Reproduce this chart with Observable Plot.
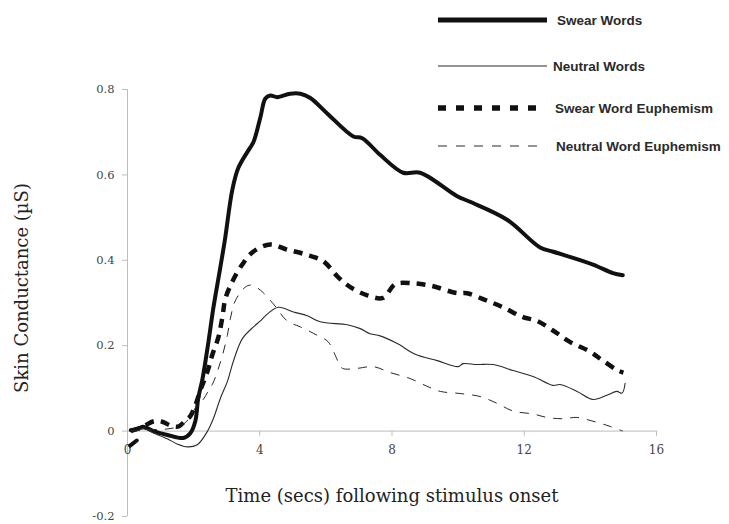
<!DOCTYPE html>
<html>
<head>
<meta charset="utf-8">
<script src="https://cdn.jsdelivr.net/npm/d3@7"></script>
<script src="https://cdn.jsdelivr.net/npm/@observablehq/plot@0.6"></script>
<style>
  html, body { margin: 0; padding: 0; background: #fff; }
  #wrap { position: relative; width: 729px; height: 524px; }
  #legend { position: absolute; left: 0; top: 0; pointer-events: none; }
</style>
</head>
<body>
<div id="wrap"></div>
<script>
// ---- data (time in seconds, skin conductance in µS) ----
const swearT = [0.08, 0.28, 0.28, 0.1, 0.3, 0.48, 0.79, 1.21, 1.69, 1.9, 2.05, 2.14, 2.27, 2.45, 2.6, 2.8, 2.95, 3.17, 3.35, 3.66, 3.81, 4.02, 4.17, 4.32, 4.53, 4.92, 5.23, 5.53, 6.04, 6.83, 7.1, 7.64, 8.34, 8.85, 9.97, 10.36, 11.48, 12.48, 12.88, 14.08, 14.68, 14.98];
const swearV = [-0.034, -0.022, NaN, 0.002, 0.005, 0.01, 0.0, -0.009, -0.016, -0.005, 0.023, 0.077, 0.123, 0.21, 0.29, 0.38, 0.45, 0.565, 0.616, 0.658, 0.677, 0.735, 0.779, 0.786, 0.782, 0.79, 0.79, 0.78, 0.744, 0.69, 0.686, 0.647, 0.605, 0.605, 0.55, 0.537, 0.495, 0.43, 0.42, 0.39, 0.37, 0.365];

const neutralT = [0.1, 0.5, 0.8, 1.2, 1.5, 1.81, 2.11, 2.42, 2.6, 2.81, 3.02, 3.2, 3.47, 3.81, 4.02, 4.17, 4.56, 5.02, 5.44, 5.83, 6.65, 7.04, 7.34, 7.64, 8.16, 8.7, 9.37, 10.0, 10.15, 10.57, 11.06, 11.66, 12.27, 12.87, 13.08, 13.6, 14.08, 14.5, 14.8, 14.96, 15.05];
const neutralV = [0.0, 0.005, -0.005, -0.018, -0.03, -0.037, -0.032, 0.0, 0.03, 0.077, 0.116, 0.163, 0.216, 0.244, 0.258, 0.27, 0.29, 0.279, 0.27, 0.256, 0.249, 0.24, 0.228, 0.223, 0.205, 0.18, 0.165, 0.151, 0.158, 0.156, 0.156, 0.142, 0.128, 0.107, 0.109, 0.093, 0.074, 0.084, 0.093, 0.089, 0.112];

const swearEuphT = [0.1, 0.45, 0.8, 1.05, 1.3, 1.55, 1.75, 1.9, 2.05, 2.2, 2.42, 2.57, 2.75, 2.87, 2.96, 3.17, 3.47, 3.8, 4.32, 4.83, 5.38, 5.92, 6.34, 6.74, 7.25, 7.73, 8.1, 8.64, 9.2, 9.97, 10.27, 10.82, 11.36, 11.96, 12.39, 12.88, 13.38, 13.99, 14.38, 14.83, 15.0];
const swearEuphV = [0.0, 0.01, 0.023, 0.022, 0.013, 0.011, 0.025, 0.035, 0.06, 0.095, 0.14, 0.18, 0.22, 0.267, 0.31, 0.35, 0.39, 0.42, 0.437, 0.425, 0.414, 0.398, 0.363, 0.337, 0.318, 0.312, 0.344, 0.346, 0.34, 0.323, 0.323, 0.307, 0.29, 0.267, 0.258, 0.235, 0.209, 0.186, 0.165, 0.142, 0.137];

const neutralEuphT = [0.1, 0.6, 1.2, 1.6, 1.85, 2.1, 2.3, 2.45, 2.57, 2.72, 2.87, 3.02, 3.11, 3.26, 3.56, 3.75, 4.02, 4.41, 4.83, 5.23, 5.77, 6.07, 6.37, 6.5, 6.95, 7.43, 7.95, 8.55, 9.06, 9.46, 10.06, 10.66, 11.18, 11.66, 12.27, 12.69, 13.17, 13.6, 14.08, 14.6, 14.98];
const neutralEuphV = [0.0, 0.003, 0.005, 0.012, 0.028, 0.06, 0.075, 0.095, 0.11, 0.14, 0.177, 0.224, 0.263, 0.305, 0.337, 0.342, 0.33, 0.298, 0.258, 0.244, 0.223, 0.209, 0.163, 0.147, 0.147, 0.151, 0.137, 0.123, 0.105, 0.093, 0.088, 0.081, 0.065, 0.047, 0.04, 0.032, 0.029, 0.032, 0.023, 0.011, 0.0];

const seriesNames = ["Swear Words", "Neutral Words", "Swear Word Euphemism", "Neutral Word Euphemism"];
const xTicks = [0, 4, 8, 12, 16];
const yTicks = [-0.2, 0, 0.2, 0.4, 0.6, 0.8];
const xLabel = "Time (secs) following stimulus onset";
const yLabel = "Skin Conductance (\u00B5S)";

// ---- styles per series ----
const styles = [
  {stroke: "#111", strokeWidth: 4, dash: null},
  {stroke: "#2a2a2a", strokeWidth: 1.1, dash: null},
  {stroke: "#111", strokeWidth: 4.5, dash: "9,7"},
  {stroke: "#2a2a2a", strokeWidth: 1, dash: "9,8"}
];

const toRows = (T, V) => T.map((t, i) => ({t, v: V[i]}));
const rows = [
  toRows(swearT, swearV),
  toRows(neutralT, neutralV),
  toRows(swearEuphT, swearEuphV),
  toRows(neutralEuphT, neutralEuphV)
];

const serif = "'DejaVu Serif', 'Liberation Serif', serif";
const gray = "#bdbdbd";

const lineMarks = rows.map((r, i) => Plot.line(r, {
  x: "t", y: "v",
  curve: "catmull-rom",
  stroke: styles[i].stroke,
  strokeWidth: styles[i].strokeWidth,
  strokeDasharray: styles[i].dash,
  strokeLinejoin: "round",
  strokeLinecap: styles[i].dash ? "butt" : "round"
}));

const chart = Plot.plot({
  width: 729,
  height: 524,
  marginLeft: 127,
  marginRight: 73,
  marginTop: 89,
  marginBottom: 8,
  x: {domain: [0, 16], axis: null},
  y: {domain: [-0.2, 0.8], axis: null},
  style: {fontFamily: serif, background: "white"},
  marks: [
    Plot.ruleX([0], {y1: -0.2, y2: 0.8, stroke: gray}),
    Plot.ruleY([0], {x1: 0, x2: 16, stroke: gray}),
    Plot.axisY(yTicks, {
      tickSize: 5, tickPadding: 8, stroke: gray, fill: "#444",
      fontSize: 11.5, label: null,
      tickFormat: d => d === 0 ? "0" : d.toFixed(1)
    }),
    Plot.ruleX(xTicks, {x: d => d, y1: 0, y2: -0.012, stroke: gray}),
    Plot.text(xTicks, {x: d => d, y: 0, dy: 19, text: d => String(d), fontSize: 12, fill: "#444"}),
    ...lineMarks,
    Plot.text([yLabel], {frameAnchor: "left", textAnchor: "middle", lineAnchor: "middle", dx: -105, dy: -15, rotate: -90, text: d => d, fontSize: 18, letterSpacing: 1.5, fill: "#222"}),
    Plot.text([xLabel], {frameAnchor: "bottom", textAnchor: "middle", lineAnchor: "middle", dy: -20, text: d => d, fontSize: 18, fill: "#222"})
  ]
});

const wrap = document.getElementById("wrap");
wrap.appendChild(chart);

// ---- legend overlay ----
const legendRows = [
  {y: 20, x2: 547, tx: 557},
  {y: 66, x2: 547, tx: 553},
  {y: 108, x2: 542, tx: 555},
  {y: 146, x2: 540, tx: 556}
];
const legendDash = [null, null, "8,10", "9,9"];
const legendWidth = [5, 1.2, 5.5, 1.1];
const ns = "http://www.w3.org/2000/svg";
const leg = document.createElementNS(ns, "svg");
leg.setAttribute("id", "legend");
leg.setAttribute("width", 729);
leg.setAttribute("height", 524);
seriesNames.forEach((name, i) => {
  const r = legendRows[i];
  const ln = document.createElementNS(ns, "line");
  ln.setAttribute("x1", 438);
  ln.setAttribute("x2", r.x2);
  ln.setAttribute("y1", r.y);
  ln.setAttribute("y2", r.y);
  ln.setAttribute("stroke", styles[i].stroke);
  ln.setAttribute("stroke-width", legendWidth[i]);
  if (legendDash[i]) ln.setAttribute("stroke-dasharray", legendDash[i]);
  leg.appendChild(ln);
  const tx = document.createElementNS(ns, "text");
  tx.setAttribute("x", r.tx);
  tx.setAttribute("y", r.y);
  tx.setAttribute("dy", "0.35em");
  tx.setAttribute("font-family", "'Liberation Sans', Arial, sans-serif");
  tx.setAttribute("font-weight", "bold");
  tx.setAttribute("font-size", "13.5");
  tx.setAttribute("fill", "#2a2a2a");
  tx.textContent = name;
  leg.appendChild(tx);
});
wrap.appendChild(leg);
</script>
</body>
</html>
